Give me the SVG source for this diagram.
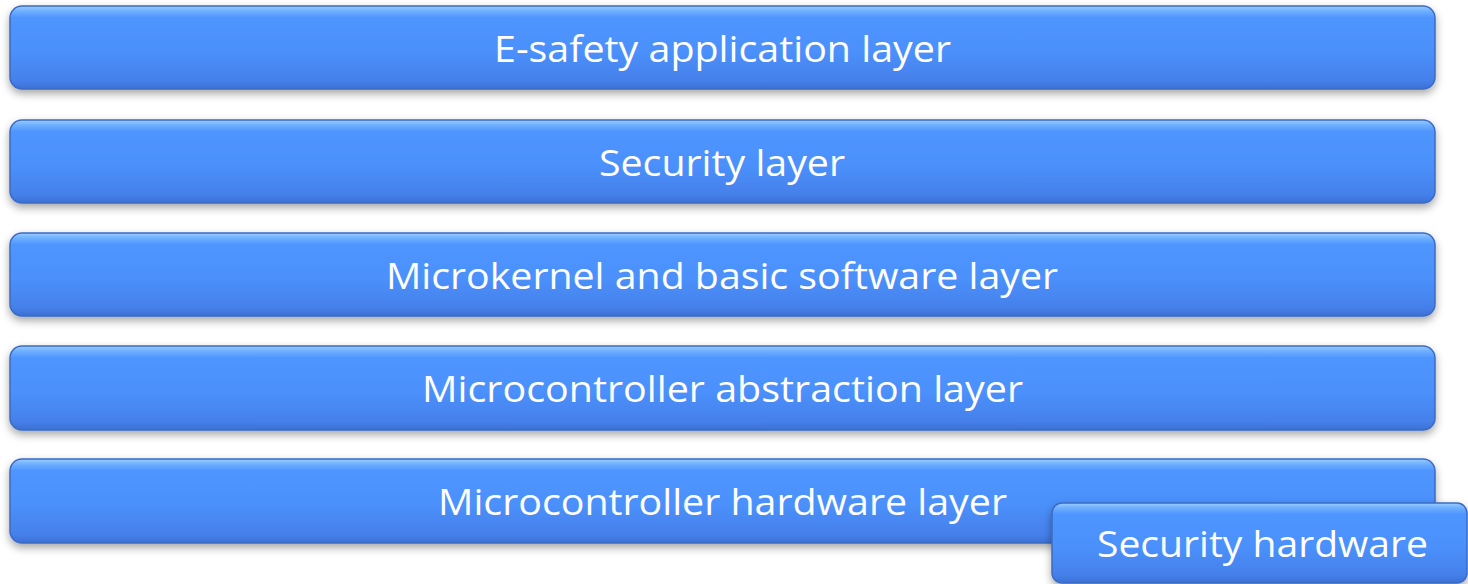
<svg xmlns="http://www.w3.org/2000/svg" width="1468" height="584" viewBox="0 0 1468 584">
<defs>
<linearGradient id="g" x1="0" y1="0" x2="0" y2="1">
<stop offset="0" stop-color="#9ccdff"/>
<stop offset="0.06" stop-color="#6fb0ff"/>
<stop offset="0.14" stop-color="#4f95ff"/>
<stop offset="0.55" stop-color="#4b90fb"/>
<stop offset="0.9" stop-color="#4580ea"/>
<stop offset="1" stop-color="#3c70d2"/>
</linearGradient>
<filter id="sh" x="-5%" y="-20%" width="110%" height="150%">
<feDropShadow dx="0" dy="4" stdDeviation="4" flood-color="#000" flood-opacity="0.35"/>
</filter>
</defs>
<style>
.b{fill:url(#g);stroke:#3a6bc4;stroke-width:1.5;filter:url(#sh)}
.t{font-family:"Open Sans","Liberation Sans",sans-serif;font-size:37px;fill:#fff;text-anchor:middle}
</style>
<g id="n1"><rect class="b" x="10" y="6" width="1425" height="83" rx="12"/><text class="t" x="722.5" y="62" textLength="457" lengthAdjust="spacingAndGlyphs">E-safety application layer</text></g>
<g id="n2"><rect class="b" x="10" y="120" width="1425" height="83" rx="12"/><text class="t" x="722" y="176" textLength="246" lengthAdjust="spacingAndGlyphs">Security layer</text></g>
<g id="n3"><rect class="b" x="10" y="233" width="1425" height="83" rx="12"/><text class="t" x="722" y="289" textLength="672" lengthAdjust="spacingAndGlyphs">Microkernel and basic software layer</text></g>
<g id="n4"><rect class="b" x="10" y="346" width="1425" height="84" rx="12"/><text class="t" x="722.5" y="402" textLength="601" lengthAdjust="spacingAndGlyphs">Microcontroller abstraction layer</text></g>
<g id="n5"><rect class="b" x="10" y="459" width="1425" height="84" rx="12"/><text class="t" x="722.5" y="515" textLength="569" lengthAdjust="spacingAndGlyphs">Microcontroller hardware layer</text></g>
<g id="n6"><rect class="b" x="1052" y="503" width="415" height="80" rx="10"/><text class="t" x="1262.5" y="557" textLength="331" lengthAdjust="spacingAndGlyphs">Security hardware</text></g>
<g id="connectors"/>
</svg>
